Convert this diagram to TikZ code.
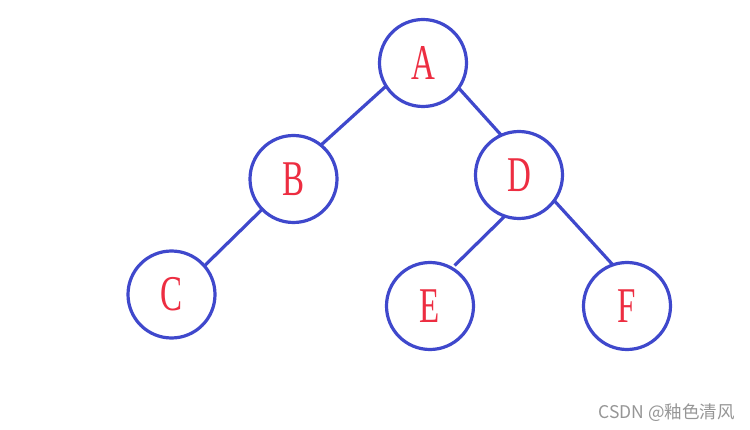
\documentclass[tikz,border=0pt]{standalone}
\usepackage{fontspec}
\setmainfont{Liberation Serif}
\newfontfamily\cjkfont{Noto Sans CJK SC}
\definecolor{nodeblue}{RGB}{63,72,204}
\definecolor{letterred}{RGB}{237,45,65}
\definecolor{markgray}{RGB}{150,150,150}
\newcommand{\tletter}[1]{\scalebox{0.66}[1]{\fontsize{50}{50}\selectfont #1}}
\begin{document}
\begin{tikzpicture}[x=1pt,y=-1pt,
  treenode/.style={circle,draw=nodeblue,line width=3.2pt,minimum size=87pt,inner sep=0pt,outer sep=0pt,text=letterred},
  treeedge/.style={draw=nodeblue,line width=3.2pt}]
\path[use as bounding box,fill=white] (0,0) rectangle (750,430);
\node[treenode] (A) at (423,63) {\tletter{A}};
\node[treenode] (B) at (293.5,179) {\tletter{B}};
\node[treenode] (D) at (519,175) {\tletter{D}};
\node[treenode] (C) at (171.5,294.5) {\tletter{C}};
\node[treenode] (E) at (430,306) {\tletter{E}};
\node[treenode] (F) at (627,306) {\tletter{F}};
\draw[treeedge] (A.212) -- (B.51);
\draw[treeedge] (A.325) -- (D.114);
\draw[treeedge] (B.224) -- (C.41);
\draw[treeedge,shorten >=4pt] (D.251) -- (E.60);
\draw[treeedge] (D.324) -- (F.109);
\node[anchor=base east,inner sep=0pt,text=markgray,font=\cjkfont\fontsize{17.5}{17.5}\selectfont] (wm) at (735,418) {CSDN @釉色清风};
\end{tikzpicture}
\end{document}
